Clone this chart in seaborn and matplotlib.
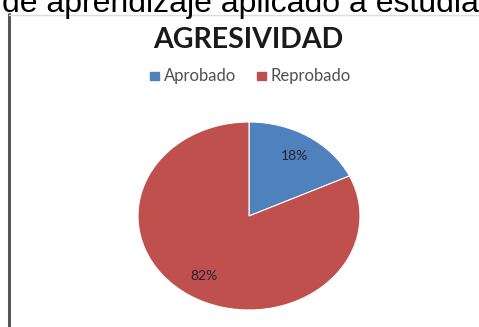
import matplotlib
matplotlib.use("Agg")
import matplotlib.pyplot as plt
from matplotlib.patches import Rectangle
from matplotlib.lines import Line2D
import seaborn as sns

# Data
categories = ["Aprobado", "Reprobado"]
values = [18, 82]
colors = ["#4F81BD", "#C0504D"]
title = "AGRESIVIDAD"
heading = "de aprendizaje aplicado a estudiantes"

sns.set_style("white")
plt.rcParams["font.family"] = ["Lato", "DejaVu Sans"]

W, H = 479, 327
fig = plt.figure(figsize=(W / 100, H / 100), dpi=100)
fig.patch.set_facecolor("white")

def fx(px):
    return px / W

def fy(py):
    return 1 - py / H

# Document heading running off the top of the page
fig.text(fx(2), fy(12), heading, fontsize=23, color="black",
         family=["Liberation Sans", "DejaVu Sans"], ha="left", va="baseline")

# Chart frame
fig.add_artist(Line2D([fx(9), fx(9)], [fy(14), fy(327)], color="#555555", lw=2.2))
fig.add_artist(Line2D([fx(9), fx(479)], [fy(15), fy(15)], color="#dddddd", lw=1.0))

# Title and legend
fig.text(fx(248), fy(40), title, fontsize=20.5, fontweight="bold",
         color="#1a1a1a", ha="center", va="center")

leg_items = [(fx(150), categories[0], colors[0]), (fx(257), categories[1], colors[1])]
for x0, lab, col in leg_items:
    fig.add_artist(Rectangle((x0, fy(80)), fx(9), 8 / H, color=col))
    fig.text(x0 + fx(14), fy(75.5), lab, fontsize=12, color="#505050",
             ha="left", va="center")

# Pie
ax = fig.add_axes([fx(138), fy(310), fx(222), 188 / H])
ax.pie(values, colors=colors, startangle=90, counterclock=False,
       autopct="%1.0f%%", pctdistance=0.76,
       textprops={"fontsize": 10, "color": "#222233"},
       wedgeprops={"linewidth": 0.8, "edgecolor": "white"})
ax.set_aspect("auto")
ax.set_xlim(-1.0, 1.0)
ax.set_ylim(-1.0, 1.0)
ax.axis("off")

fig.savefig("out.png", dpi=100)
